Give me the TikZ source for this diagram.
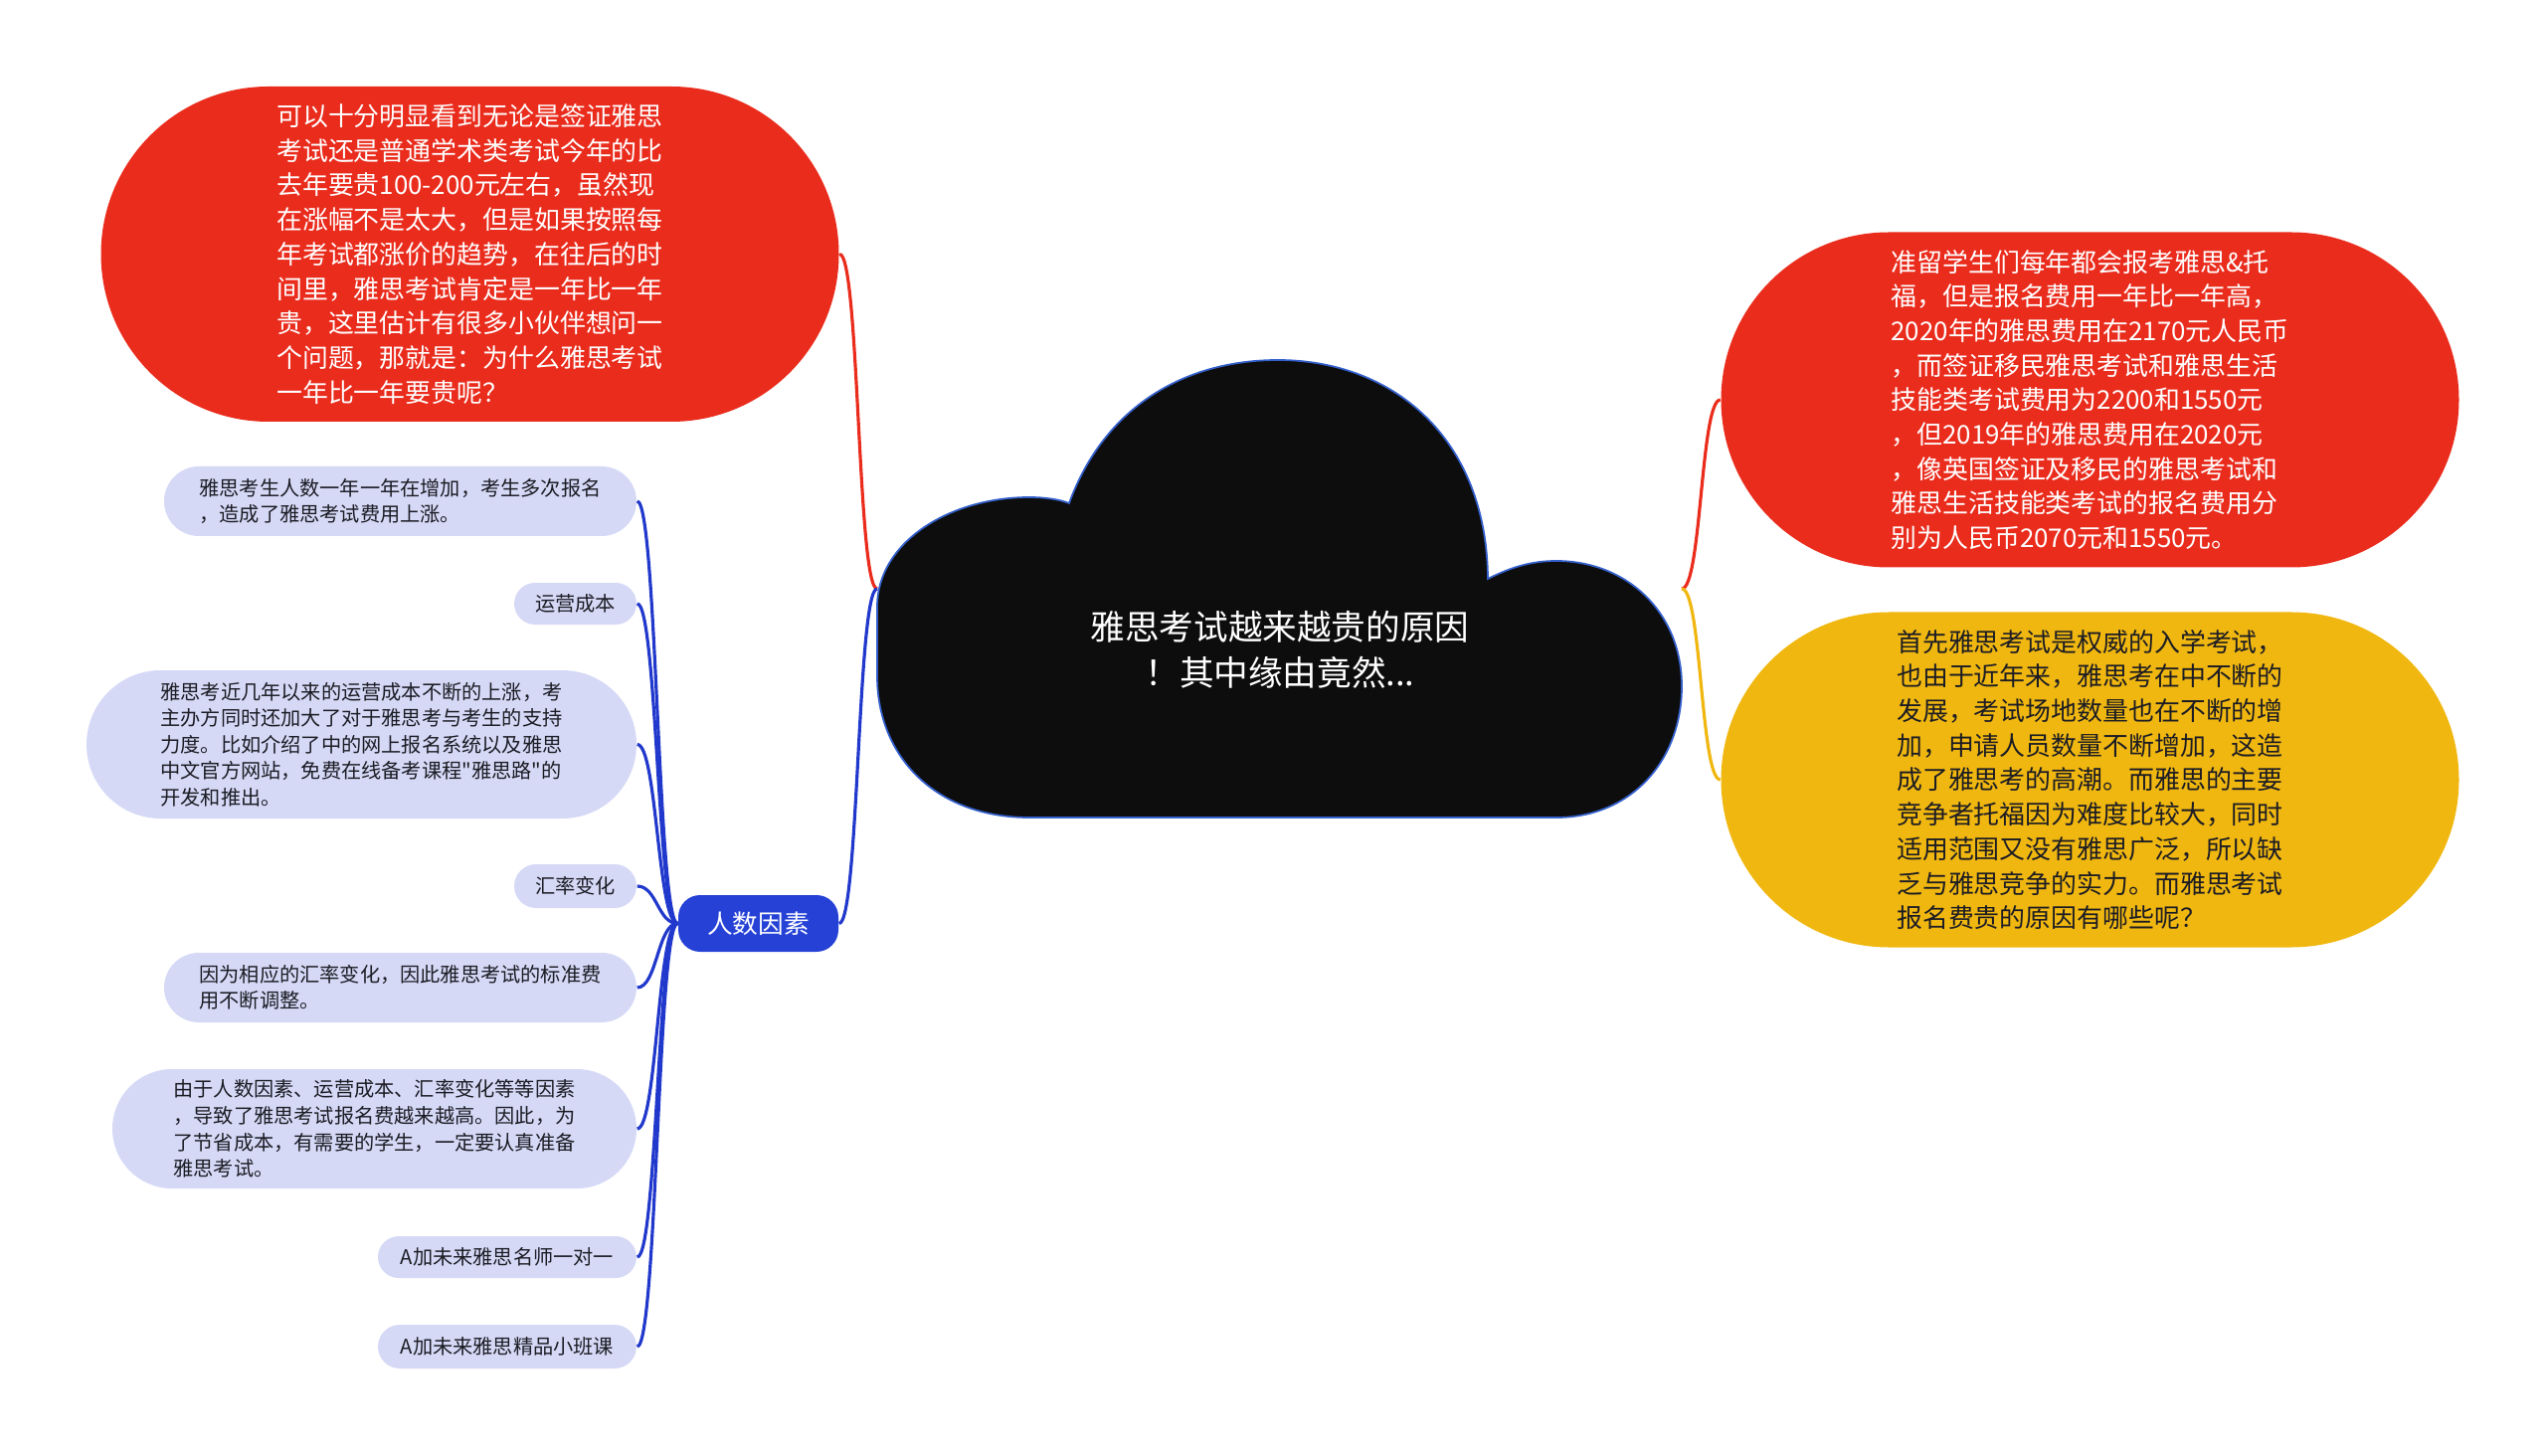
\documentclass[tikz,border=0pt]{standalone}
\usepackage{fontspec}
\setmainfont{Noto Sans CJK SC}[Ligatures=TeXOff]
\usepackage{xcolor}
\definecolor{redcol}{RGB}{234,44,29}
\definecolor{yelcol}{RGB}{240,183,16}
\definecolor{leafcol}{RGB}{213,217,246}
\definecolor{bluecol}{RGB}{38,66,214}
\definecolor{linecol}{RGB}{33,56,204}
\definecolor{cloudcol}{RGB}{13,13,13}
\definecolor{edgecol}{RGB}{52,96,204}
\definecolor{inkcol}{RGB}{28,28,36}

\begin{document}
\begin{tikzpicture}[
    bigbub/.style={rectangle, minimum width=7.42cm, minimum height=3.37cm, rounded corners=1.685cm, inner sep=0pt, align=left, font=\fontsize{7.37pt}{9.87pt}\selectfont},
    leaf/.style={rectangle, inner sep=0pt, fill=leafcol, text=inkcol, align=left, font=\fontsize{5.75pt}{7.55pt}\selectfont},
    link/.style={line width=0.9pt},
]
\useasboundingbox (0,0) rectangle (25.6,-14.64);

\fill[cloudcol, draw=edgecol, line width=0.5pt] (10.35,-8.22) .. controls (9.40,-8.22) and (8.82,-7.60) .. (8.82,-6.80) -- (8.82,-6.10) .. controls (8.82,-5.45) and (9.55,-5.00) .. (10.35,-5.00) .. controls (10.50,-5.00) and (10.65,-5.02) .. (10.75,-5.06) .. controls (11.10,-4.10) and (11.90,-3.62) .. (12.85,-3.62) .. controls (14.00,-3.62) and (14.95,-4.40) .. (14.96,-5.82) .. controls (15.20,-5.70) and (15.40,-5.64) .. (15.65,-5.64) .. controls (16.35,-5.64) and (16.91,-6.15) .. (16.91,-6.90) .. controls (16.91,-7.65) and (16.40,-8.22) .. (15.65,-8.22) -- cycle;
\node[font=\fontsize{9.85pt}{13.1pt}\selectfont, text=white, align=center] (root) at (12.87,-6.53) {雅思考试越来越贵的原因\\！其中缘由竟然...};
\coordinate (cl) at (8.82,-5.92);
\coordinate (cr) at (16.91,-5.92);

\node[bigbub, fill=redcol, text=white] (whyL) at (4.725,-2.555) {可以十分明显看到无论是签证雅思\\考试还是普通学术类考试今年的比\\去年要贵100-200元左右，虽然现\\在涨幅不是太大，但是如果按照每\\年考试都涨价的趋势，在往后的时\\间里，雅思考试肯定是一年比一年\\贵，这里估计有很多小伙伴想问一\\个问题，那就是：为什么雅思考试\\一年比一年要贵呢？};
\node[bigbub, fill=redcol, text=white] (feeR) at (21.015,-4.02) {准留学生们每年都会报考雅思\&托\\福，但是报名费用一年比一年高，\\2020年的雅思费用在2170元人民币\\，而签证移民雅思考试和雅思生活\\技能类考试费用为2200和1550元\\，但2019年的雅思费用在2020元\\，像英国签证及移民的雅思考试和\\雅思生活技能类考试的报名费用分\\别为人民币2070元和1550元。};
\node[bigbub, fill=yelcol, text=inkcol] (rsnR) at (21.015,-7.84) {首先雅思考试是权威的入学考试，\\也由于近年来，雅思考在中不断的\\发展，考试场地数量也在不断的增\\加，申请人员数量不断增加，这造\\成了雅思考的高潮。而雅思的主要\\竞争者托福因为难度比较大，同时\\适用范围又没有雅思广泛，所以缺\\乏与雅思竞争的实力。而雅思考试\\报名费贵的原因有哪些呢？};

\node[rectangle, rounded corners=0.22cm, minimum width=1.61cm, minimum height=0.57cm, inner sep=0pt, fill=bluecol, text=white, font=\fontsize{7.3pt}{9pt}\selectfont] (factor) at (7.625,-9.285) {人数因素};

\node[leaf, minimum width=4.75cm, minimum height=0.70cm, rounded corners=0.35cm] (k1) at (4.025,-5.04) {雅思考生人数一年一年在增加，考生多次报名\\，造成了雅思考试费用上涨。};
\node[leaf, minimum width=1.23cm, minimum height=0.42cm, rounded corners=0.21cm] (k2) at (5.785,-6.07) {运营成本};
\node[leaf, minimum width=5.53cm, minimum height=1.49cm, rounded corners=0.745cm] (k3) at (3.635,-7.485) {雅思考近几年以来的运营成本不断的上涨，考\\主办方同时还加大了对于雅思考与考生的支持\\力度。比如介绍了中的网上报名系统以及雅思\\中文官方网站，免费在线备考课程"雅思路"的\\开发和推出。};
\node[leaf, minimum width=1.23cm, minimum height=0.44cm, rounded corners=0.22cm] (k4) at (5.785,-8.91) {汇率变化};
\node[leaf, minimum width=4.75cm, minimum height=0.70cm, rounded corners=0.35cm] (k5) at (4.025,-9.93) {因为相应的汇率变化，因此雅思考试的标准费\\用不断调整。};
\node[leaf, minimum width=5.27cm, minimum height=1.20cm, rounded corners=0.60cm] (k6) at (3.765,-11.35) {由于人数因素、运营成本、汇率变化等等因素\\，导致了雅思考试报名费越来越高。因此，为\\了节省成本，有需要的学生，一定要认真准备\\雅思考试。};
\node[leaf, minimum width=2.60cm, minimum height=0.42cm, rounded corners=0.21cm] (k7) at (5.10,-12.64) {A加未来雅思名师一对一};
\node[leaf, minimum width=2.60cm, minimum height=0.44cm, rounded corners=0.22cm] (k8) at (5.10,-13.54) {A加未来雅思精品小班课};

\draw[link, redcol] (cl) .. controls +(-0.2,0) and +(0.2,0) .. (whyL.east);
\draw[link, linecol] (cl) .. controls +(-0.2,0) and +(0.2,0) .. (factor.east);
\draw[link, redcol] (cr) .. controls +(0.2,0) and +(-0.2,0) .. (feeR.west);
\draw[link, yelcol] (cr) .. controls +(0.2,0) and +(-0.2,0) .. (rsnR.west);

\draw[link, linecol] (factor.west) .. controls +(-0.2,0) and +(0.2,0) .. (k1.east);
\draw[link, linecol] (factor.west) .. controls +(-0.2,0) and +(0.2,0) .. (k2.east);
\draw[link, linecol] (factor.west) .. controls +(-0.2,0) and +(0.2,0) .. (k3.east);
\draw[link, linecol] (factor.west) .. controls +(-0.2,0) and +(0.2,0) .. (k4.east);
\draw[link, linecol] (factor.west) .. controls +(-0.2,0) and +(0.2,0) .. (k5.east);
\draw[link, linecol] (factor.west) .. controls +(-0.2,0) and +(0.2,0) .. (k6.east);
\draw[link, linecol] (factor.west) .. controls +(-0.2,0) and +(0.2,0) .. (k7.east);
\draw[link, linecol] (factor.west) .. controls +(-0.2,0) and +(0.2,0) .. (k8.east);
\end{tikzpicture}
\end{document}
